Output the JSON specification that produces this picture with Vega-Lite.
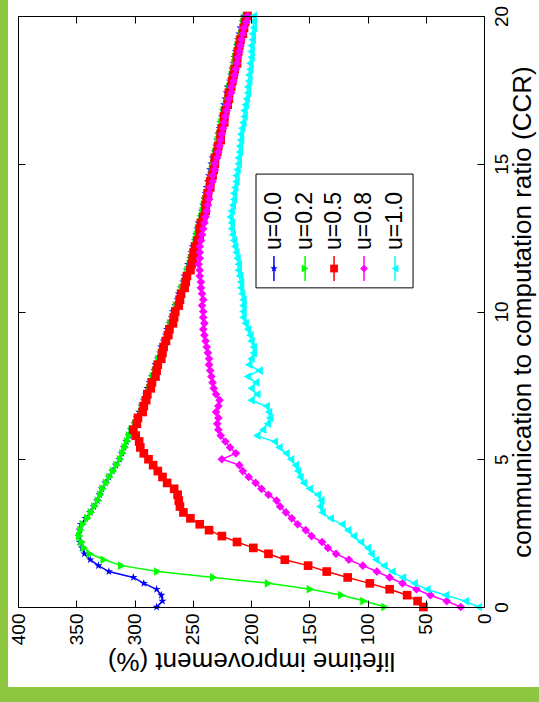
{
"$schema": "https://vega.github.io/schema/vega-lite/v6.json",
"width": 466, "height": 591,
"autosize": {"type": "none"},
"padding": {"left": 18, "top": 16, "right": 55, "bottom": 95},
"background": "white",
"config": {"view": {"stroke": null}, "font": "Liberation Sans"},
"datasets": {"curves": [
{"ccr":0,"s1":281,"s2":85,"s3":52,"s4":20,"s5":5},
{"ccr":0.2,"s1":276,"s2":103,"s3":57,"s4":32,"s5":16},
{"ccr":0.4,"s1":277,"s2":122,"s3":66,"s4":46,"s5":33},
{"ccr":0.6,"s1":281,"s2":149,"s3":81,"s4":58,"s5":49},
{"ccr":0.8,"s1":292,"s2":185,"s3":98,"s4":70,"s5":60},
{"ccr":1,"s1":301,"s2":232,"s3":117,"s4":81,"s5":70},
{"ccr":1.2,"s1":322,"s2":280,"s3":135,"s4":92,"s5":79},
{"ccr":1.4,"s1":331,"s2":311,"s3":151,"s4":104,"s5":86},
{"ccr":1.6,"s1":338,"s2":326,"s3":171,"s4":116,"s5":93},
{"ccr":1.8,"s1":343,"s2":338,"s3":185,"s4":127,"s5":97},
{"ccr":2,"s1":345,"s2":343,"s3":198,"s4":134,"s5":100},
{"ccr":2.2,"s1":347,"s2":345,"s3":212,"s4":139,"s5":106},
{"ccr":2.4,"s1":348,"s2":347,"s3":225,"s4":148,"s5":112},
{"ccr":2.6,"s1":347,"s2":346,"s3":236,"s4":153,"s5":117},
{"ccr":2.8,"s1":346,"s2":344,"s3":244,"s4":160,"s5":122},
{"ccr":3,"s1":342,"s2":340,"s3":252,"s4":165,"s5":132},
{"ccr":3.2,"s1":338,"s2":337,"s3":258,"s4":170,"s5":139},
{"ccr":3.4,"s1":335,"s2":334,"s3":261,"s4":175,"s5":141},
{"ccr":3.6,"s1":332,"s2":331,"s3":262,"s4":178,"s5":140},
{"ccr":3.8,"s1":330,"s2":329,"s3":263,"s4":185,"s5":143},
{"ccr":4,"s1":328,"s2":327,"s3":266,"s4":191,"s5":150},
{"ccr":4.2,"s1":325,"s2":324,"s3":272,"s4":196,"s5":155},
{"ccr":4.4,"s1":322,"s2":321,"s3":276,"s4":202,"s5":158},
{"ccr":4.6,"s1":319,"s2":318,"s3":280,"s4":207,"s5":160},
{"ccr":4.8,"s1":316,"s2":315,"s3":284,"s4":210,"s5":162},
{"ccr":5,"s1":313,"s2":312,"s3":288,"s4":225,"s5":166},
{"ccr":5.2,"s1":311,"s2":310,"s3":292,"s4":213,"s5":170},
{"ccr":5.4,"s1":309,"s2":308,"s3":295,"s4":218,"s5":176},
{"ccr":5.6,"s1":307,"s2":306,"s3":296,"s4":222,"s5":180},
{"ccr":5.8,"s1":305,"s2":304,"s3":299,"s4":226,"s5":195},
{"ccr":6,"s1":303,"s2":302,"s3":301,"s4":228,"s5":190},
{"ccr":6.2,"s1":300,"s2":299,"s3":298,"s4":229,"s5":186},
{"ccr":6.4,"s1":298,"s2":297,"s3":297,"s4":228,"s5":184},
{"ccr":6.6,"s1":296,"s2":294,"s3":293,"s4":230,"s5":185},
{"ccr":6.8,"s1":294,"s2":293,"s3":292,"s4":228,"s5":187},
{"ccr":7,"s1":292,"s2":291,"s3":290,"s4":227,"s5":200},
{"ccr":7.2,"s1":290,"s2":289,"s3":289,"s4":230,"s5":195},
{"ccr":7.4,"s1":289,"s2":287,"s3":286,"s4":232,"s5":200},
{"ccr":7.6,"s1":287,"s2":286,"s3":285,"s4":233,"s5":196},
{"ccr":7.8,"s1":285,"s2":284,"s3":282,"s4":234,"s5":203},
{"ccr":8,"s1":283,"s2":282,"s3":281,"s4":235,"s5":193},
{"ccr":8.2,"s1":282,"s2":280,"s3":280,"s4":236,"s5":202},
{"ccr":8.4,"s1":280,"s2":279,"s3":277,"s4":236,"s5":200},
{"ccr":8.6,"s1":278,"s2":277,"s3":276,"s4":237,"s5":198},
{"ccr":8.8,"s1":277,"s2":275,"s3":275,"s4":238,"s5":198},
{"ccr":9,"s1":275,"s2":274,"s3":273,"s4":239,"s5":200},
{"ccr":9.2,"s1":273,"s2":272,"s3":271,"s4":240,"s5":201},
{"ccr":9.4,"s1":272,"s2":270,"s3":270,"s4":241,"s5":203},
{"ccr":9.6,"s1":270,"s2":269,"s3":267,"s4":240,"s5":205},
{"ccr":9.8,"s1":268,"s2":267,"s3":266,"s4":241,"s5":207},
{"ccr":10,"s1":267,"s2":265,"s3":265,"s4":241,"s5":207},
{"ccr":10.2,"s1":265,"s2":264,"s3":262,"s4":242,"s5":207},
{"ccr":10.4,"s1":263,"s2":262,"s3":261,"s4":241,"s5":207},
{"ccr":10.6,"s1":262,"s2":260,"s3":260,"s4":242,"s5":208},
{"ccr":10.8,"s1":260,"s2":259,"s3":257,"s4":243,"s5":209},
{"ccr":11,"s1":258,"s2":257,"s3":256,"s4":243,"s5":209},
{"ccr":11.2,"s1":257,"s2":255,"s3":255,"s4":244,"s5":210},
{"ccr":11.4,"s1":255,"s2":254,"s3":252,"s4":244,"s5":211},
{"ccr":11.6,"s1":254,"s2":252,"s3":251,"s4":245,"s5":211},
{"ccr":11.8,"s1":252,"s2":251,"s3":250,"s4":244,"s5":212},
{"ccr":12,"s1":251,"s2":250,"s3":249,"s4":244,"s5":213},
{"ccr":12.2,"s1":250,"s2":248,"s3":248,"s4":244,"s5":214},
{"ccr":12.4,"s1":248,"s2":247,"s3":246,"s4":243,"s5":215},
{"ccr":12.6,"s1":247,"s2":246,"s3":244,"s4":242,"s5":216},
{"ccr":12.8,"s1":246,"s2":245,"s3":244,"s4":241,"s5":217},
{"ccr":13,"s1":245,"s2":243,"s3":243,"s4":240,"s5":217},
{"ccr":13.2,"s1":243,"s2":242,"s3":241,"s4":239,"s5":218},
{"ccr":13.4,"s1":242,"s2":241,"s3":239,"s4":238,"s5":217},
{"ccr":13.6,"s1":241,"s2":240,"s3":239,"s4":237,"s5":216},
{"ccr":13.8,"s1":240,"s2":239,"s3":238,"s4":236,"s5":215},
{"ccr":14,"s1":239,"s2":238,"s3":237,"s4":236,"s5":215},
{"ccr":14.2,"s1":238,"s2":236,"s3":235,"s4":235,"s5":214},
{"ccr":14.4,"s1":237,"s2":235,"s3":235,"s4":233,"s5":213},
{"ccr":14.6,"s1":236,"s2":234,"s3":233,"s4":233,"s5":213},
{"ccr":14.8,"s1":235,"s2":233,"s3":232,"s4":231,"s5":212},
{"ccr":15,"s1":234,"s2":232,"s3":231,"s4":231,"s5":211},
{"ccr":15.2,"s1":233,"s2":231,"s3":231,"s4":229,"s5":211},
{"ccr":15.4,"s1":231,"s2":230,"s3":229,"s4":228,"s5":210},
{"ccr":15.6,"s1":230,"s2":229,"s3":228,"s4":227,"s5":210},
{"ccr":15.8,"s1":229,"s2":228,"s3":226,"s4":226,"s5":209},
{"ccr":16,"s1":228,"s2":227,"s3":226,"s4":225,"s5":209},
{"ccr":16.2,"s1":227,"s2":226,"s3":225,"s4":224,"s5":208},
{"ccr":16.4,"s1":226,"s2":225,"s3":223,"s4":223,"s5":207},
{"ccr":16.6,"s1":225,"s2":224,"s3":223,"s4":222,"s5":206},
{"ccr":16.8,"s1":224,"s2":223,"s3":222,"s4":221,"s5":206},
{"ccr":17,"s1":223,"s2":221,"s3":220,"s4":220,"s5":205},
{"ccr":17.2,"s1":222,"s2":220,"s3":219,"s4":219,"s5":204},
{"ccr":17.4,"s1":221,"s2":219,"s3":219,"s4":217,"s5":203},
{"ccr":17.6,"s1":220,"s2":218,"s3":217,"s4":217,"s5":203},
{"ccr":17.8,"s1":218,"s2":217,"s3":216,"s4":215,"s5":202},
{"ccr":18,"s1":217,"s2":216,"s3":215,"s4":214,"s5":202},
{"ccr":18.2,"s1":216,"s2":215,"s3":214,"s4":213,"s5":201},
{"ccr":18.4,"s1":215,"s2":214,"s3":212,"s4":212,"s5":201},
{"ccr":18.6,"s1":214,"s2":213,"s3":212,"s4":211,"s5":200},
{"ccr":18.8,"s1":213,"s2":212,"s3":211,"s4":210,"s5":200},
{"ccr":19,"s1":212,"s2":211,"s3":210,"s4":209,"s5":200},
{"ccr":19.2,"s1":211,"s2":210,"s3":209,"s4":208,"s5":199},
{"ccr":19.4,"s1":210,"s2":208,"s3":207,"s4":207,"s5":199},
{"ccr":19.6,"s1":209,"s2":207,"s3":206,"s4":206,"s5":198},
{"ccr":19.8,"s1":207,"s2":206,"s3":205,"s4":204,"s5":198},
{"ccr":20,"s1":206,"s2":204,"s3":203,"s4":203,"s5":198}
]},
"resolve": {"axis": {"x": "independent", "y": "independent"}},
"layer": [
{
"data": {"values": [{}]},
"mark": {"type": "rect", "fill": "#8dc63f", "clip": false},
"encoding": {
"x": {"datum": 430, "type": "quantitative",
 "scale": {"domain": [0, 400], "reverse": true, "nice": false, "zero": false},
 "axis": {"orient": "top", "values": [0,50,100,150,200,250,300,350,400], "labels": false, "title": null, "tickSize": -7, "tickColor": "black", "domainColor": "black", "grid": false, "zindex": 1}},
"x2": {"datum": 408.58},
"y": {"datum": -6, "type": "quantitative",
 "scale": {"domain": [0, 20], "nice": false, "zero": false},
 "axis": {"orient": "left", "values": [0,5,10,15,20], "labels": false, "title": null, "tickSize": -7, "tickColor": "black", "domainColor": "black", "grid": false, "zindex": 1}},
"y2": {"datum": 22}
}
},
{
"data": {"values": [{}]},
"mark": {"type": "rect", "fill": "#8dc63f", "clip": false},
"encoding": {
"x": {"datum": 430, "type": "quantitative", "axis": null},
"x2": {"datum": -60},
"y": {"datum": -6, "type": "quantitative", "axis": null},
"y2": {"datum": -2.707}
}
},
{
"data": {"name": "curves"},
"transform": [{"fold": ["s1","s2","s3","s4","s5"], "as": ["s","v"]}],
"mark": {"type": "line", "strokeWidth": 1.5},
"encoding": {
"x": {"field": "v", "type": "quantitative",
 "scale": {"domain": [0, 400], "reverse": true, "nice": false, "zero": false},
 "axis": {"orient": "bottom", "values": [0,50,100,150,200,250,300,350,400], "labelAngle": -90, "labelAlign": "right", "labelBaseline": "middle", "labelPadding": 13, "tickSize": -7, "tickColor": "black", "domainColor": "black", "labelFontSize": 19, "labelColor": "black", "title": "lifetime improvement (%)", "titleFontSize": 26, "titleFontWeight": "normal", "titleAngle": 180, "titleBaseline": "bottom", "titlePadding": 3, "grid": false, "zindex": 1}},
"y": {"field": "ccr", "type": "quantitative",
 "scale": {"domain": [0, 20], "nice": false, "zero": false},
 "axis": {"orient": "right", "values": [0,5,10,15,20], "labelAngle": -90, "labelAlign": "center", "labelBaseline": "top", "labelPadding": 15, "tickSize": -7, "tickColor": "black", "domainColor": "black", "labelFontSize": 19, "labelColor": "black", "title": "communication to computation ratio (CCR)", "titleFontSize": 26, "titleFontWeight": "normal", "titleAngle": -90, "titleBaseline": "top", "titlePadding": -2, "grid": false, "zindex": 1}},
"color": {"field": "s", "type": "nominal", "scale": {"domain": ["s1","s2","s3","s4","s5"], "range": ["#0000ff","#00ff00","#ff0000","#ff00ff","#00ffff"]}, "legend": null},
"order": {"field": "ccr", "type": "quantitative"}
}
},
{
"data": {"name": "curves"},
"transform": [{"fold": ["s1","s2","s3","s4","s5"], "as": ["s","v"]}],
"mark": {"type": "point", "filled": true, "opacity": 1, "size": 75},
"encoding": {
"x": {"field": "v", "type": "quantitative", "axis": null},
"y": {"field": "ccr", "type": "quantitative", "axis": null},
"color": {"field": "s", "type": "nominal", "legend": null},
"shape": {"field": "s", "type": "nominal", "scale": {"domain": ["s1","s2","s3","s4","s5"], "range": ["M0,-1L0.225,-0.309L0.951,-0.309L0.363,0.118L0.588,0.809L0,0.382L-0.588,0.809L-0.363,0.118L-0.951,-0.309L-0.225,-0.309Z","triangle-right","square","diamond","triangle-left"]}, "legend": null},
"order": {"field": "s", "type": "ordinal"}
}
},
{
"data": {"values": [{}]},
"mark": {"type": "rect", "filled": false, "stroke": "black", "strokeWidth": 1, "clip": false},
"encoding": {
"x": {"datum": 195.7, "type": "quantitative", "axis": null}, "x2": {"datum": 60.9},
"y": {"datum": 14.65, "type": "quantitative", "axis": null}, "y2": {"datum": 10.8}
}
},
{"data": {"values": [{}]}, "mark": {"type": "text", "text": "u=0.0", "angle": 270, "align": "left", "baseline": "middle", "fontSize": 23, "color": "black"},
 "encoding": {"x": {"datum": 180.3, "type": "quantitative", "axis": null}, "y": {"datum": 12.08, "type": "quantitative", "axis": null}}},
{"data": {"values": [{}]}, "mark": {"type": "text", "text": "u=0.2", "angle": 270, "align": "left", "baseline": "middle", "fontSize": 23, "color": "black"},
 "encoding": {"x": {"datum": 153.6, "type": "quantitative", "axis": null}, "y": {"datum": 12.08, "type": "quantitative", "axis": null}}},
{"data": {"values": [{}]}, "mark": {"type": "text", "text": "u=0.5", "angle": 270, "align": "left", "baseline": "middle", "fontSize": 23, "color": "black"},
 "encoding": {"x": {"datum": 128.7, "type": "quantitative", "axis": null}, "y": {"datum": 12.08, "type": "quantitative", "axis": null}}},
{"data": {"values": [{}]}, "mark": {"type": "text", "text": "u=0.8", "angle": 270, "align": "left", "baseline": "middle", "fontSize": 23, "color": "black"},
 "encoding": {"x": {"datum": 103.0, "type": "quantitative", "axis": null}, "y": {"datum": 12.08, "type": "quantitative", "axis": null}}},
{"data": {"values": [{}]}, "mark": {"type": "text", "text": "u=1.0", "angle": 270, "align": "left", "baseline": "middle", "fontSize": 23, "color": "black"},
 "encoding": {"x": {"datum": 76.4, "type": "quantitative", "axis": null}, "y": {"datum": 12.08, "type": "quantitative", "axis": null}}},
{"data": {"values": [{}]}, "mark": {"type": "rule", "color": "#0000ff", "strokeWidth": 1.5},
 "encoding": {"x": {"datum": 180.3, "type": "quantitative", "axis": null}, "y": {"datum": 11.88, "type": "quantitative", "axis": null}, "y2": {"datum": 11.03}}},
{"data": {"values": [{}]}, "mark": {"type": "rule", "color": "#00ff00", "strokeWidth": 1.5},
 "encoding": {"x": {"datum": 153.6, "type": "quantitative", "axis": null}, "y": {"datum": 11.88, "type": "quantitative", "axis": null}, "y2": {"datum": 11.03}}},
{"data": {"values": [{}]}, "mark": {"type": "rule", "color": "#ff0000", "strokeWidth": 1.5},
 "encoding": {"x": {"datum": 128.7, "type": "quantitative", "axis": null}, "y": {"datum": 11.88, "type": "quantitative", "axis": null}, "y2": {"datum": 11.03}}},
{"data": {"values": [{}]}, "mark": {"type": "rule", "color": "#ff00ff", "strokeWidth": 1.5},
 "encoding": {"x": {"datum": 103.0, "type": "quantitative", "axis": null}, "y": {"datum": 11.88, "type": "quantitative", "axis": null}, "y2": {"datum": 11.03}}},
{"data": {"values": [{}]}, "mark": {"type": "rule", "color": "#00ffff", "strokeWidth": 1.5},
 "encoding": {"x": {"datum": 76.4, "type": "quantitative", "axis": null}, "y": {"datum": 11.88, "type": "quantitative", "axis": null}, "y2": {"datum": 11.03}}},
{"data": {"values": [{}]}, "mark": {"type": "point", "shape": "M0,-1L0.225,-0.309L0.951,-0.309L0.363,0.118L0.588,0.809L0,0.382L-0.588,0.809L-0.363,0.118L-0.951,-0.309L-0.225,-0.309Z", "filled": true, "opacity": 1, "size": 60, "color": "#0000ff"},
 "encoding": {"x": {"datum": 180.3, "type": "quantitative", "axis": null}, "y": {"datum": 11.455, "type": "quantitative", "axis": null}}},
{"data": {"values": [{}]}, "mark": {"type": "point", "shape": "triangle-right", "filled": true, "opacity": 1, "size": 60, "color": "#00ff00"},
 "encoding": {"x": {"datum": 153.6, "type": "quantitative", "axis": null}, "y": {"datum": 11.455, "type": "quantitative", "axis": null}}},
{"data": {"values": [{}]}, "mark": {"type": "point", "shape": "square", "filled": true, "opacity": 1, "size": 60, "color": "#ff0000"},
 "encoding": {"x": {"datum": 128.7, "type": "quantitative", "axis": null}, "y": {"datum": 11.455, "type": "quantitative", "axis": null}}},
{"data": {"values": [{}]}, "mark": {"type": "point", "shape": "diamond", "filled": true, "opacity": 1, "size": 60, "color": "#ff00ff"},
 "encoding": {"x": {"datum": 103.0, "type": "quantitative", "axis": null}, "y": {"datum": 11.455, "type": "quantitative", "axis": null}}},
{"data": {"values": [{}]}, "mark": {"type": "point", "shape": "triangle-left", "filled": true, "opacity": 1, "size": 60, "color": "#00ffff"},
 "encoding": {"x": {"datum": 76.4, "type": "quantitative", "axis": null}, "y": {"datum": 11.455, "type": "quantitative", "axis": null}}}
]
}
